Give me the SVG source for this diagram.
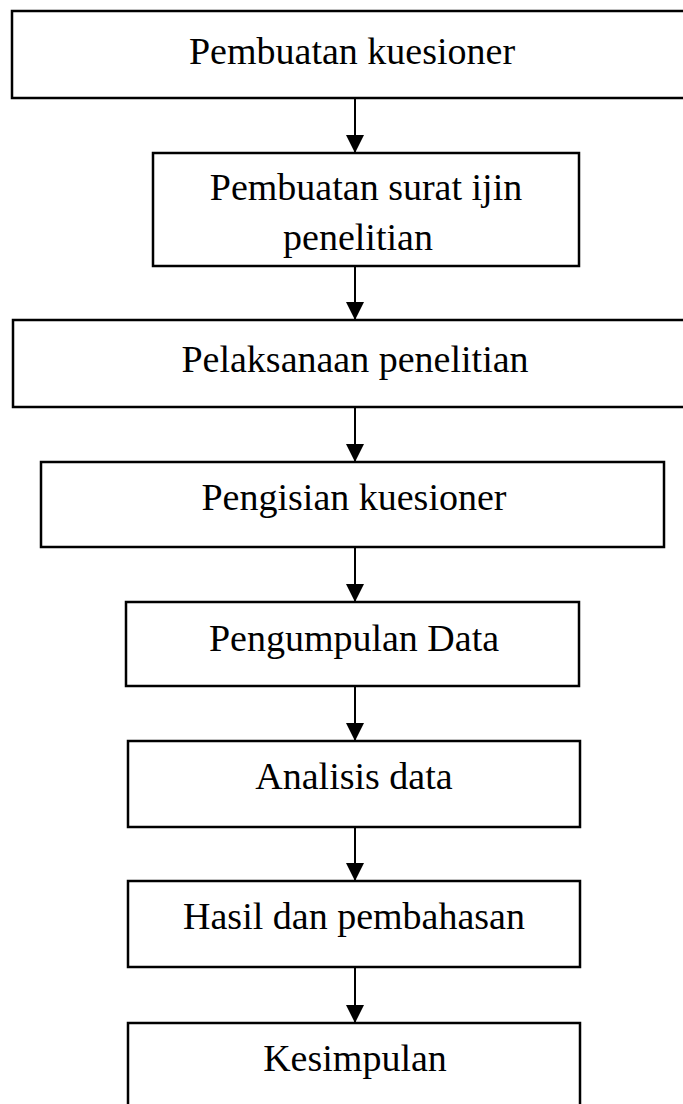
<svg xmlns="http://www.w3.org/2000/svg" width="683" height="1104" viewBox="0 0 683 1104">
<style>
.box{fill:#fff;stroke:#000;stroke-width:2.5}
.lbl{font-family:"Liberation Serif","Times New Roman",serif;font-size:38px;fill:#000;text-anchor:middle}
.edge{stroke:#000;stroke-width:2;fill:none}
</style>
<defs>
<marker id="ah" markerUnits="userSpaceOnUse" markerWidth="18" markerHeight="18" refX="18" refY="9" orient="auto">
<path d="M0,0 L18,9 L0,18 z" fill="#000"/>
</marker>
</defs>
<rect width="683" height="1104" fill="#fff"/>
<g id="connectors">
<line class="edge" x1="355" y1="98" x2="355" y2="153" marker-end="url(#ah)"/>
<line class="edge" x1="355" y1="266" x2="355" y2="320" marker-end="url(#ah)"/>
<line class="edge" x1="355" y1="407" x2="355" y2="462" marker-end="url(#ah)"/>
<line class="edge" x1="355" y1="547" x2="355" y2="602" marker-end="url(#ah)"/>
<line class="edge" x1="355" y1="686" x2="355" y2="741" marker-end="url(#ah)"/>
<line class="edge" x1="355" y1="827" x2="355" y2="881" marker-end="url(#ah)"/>
<line class="edge" x1="355" y1="967" x2="355" y2="1023" marker-end="url(#ah)"/>
</g>
<g id="n1"><rect class="box" x="12" y="11" width="680" height="87"/><text class="lbl" x="352" y="64">Pembuatan kuesioner</text></g>
<g id="n2"><rect class="box" x="153" y="153" width="426" height="113"/><text class="lbl" x="366" y="200">Pembuatan surat ijin</text><text class="lbl" x="358" y="250">penelitian</text></g>
<g id="n3"><rect class="box" x="13" y="320" width="680" height="87"/><text class="lbl" x="355" y="372">Pelaksanaan penelitian</text></g>
<g id="n4"><rect class="box" x="41" y="462" width="623" height="85"/><text class="lbl" x="354" y="510">Pengisian kuesioner</text></g>
<g id="n5"><rect class="box" x="126" y="602" width="453" height="84"/><text class="lbl" x="354" y="651">Pengumpulan Data</text></g>
<g id="n6"><rect class="box" x="128" y="741" width="452" height="86"/><text class="lbl" x="354" y="789">Analisis data</text></g>
<g id="n7"><rect class="box" x="128" y="881" width="452" height="86"/><text class="lbl" x="354" y="929">Hasil dan pembahasan</text></g>
<g id="n8"><rect class="box" x="128" y="1023" width="452" height="90"/><text class="lbl" x="355" y="1071">Kesimpulan</text></g>
</svg>
